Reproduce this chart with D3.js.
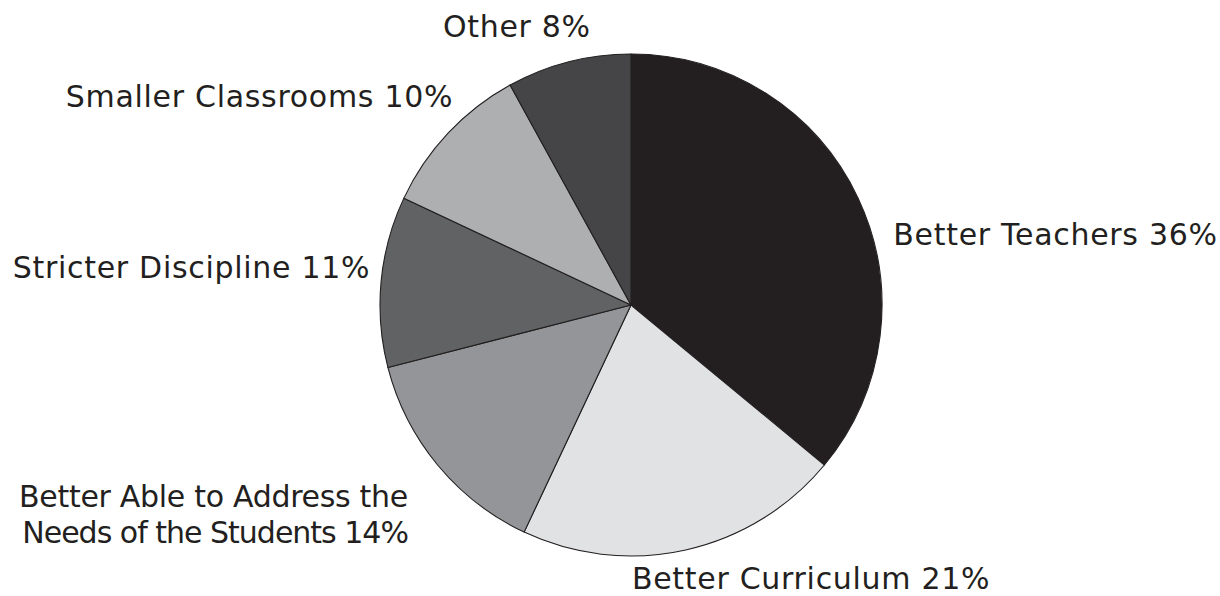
<!DOCTYPE html>
<html>
<head>
<meta charset="utf-8">
<script src="https://cdn.jsdelivr.net/npm/d3@7"></script>
<style>
  body { margin: 0; background: #fff; }
  text { font-family: "DejaVu Sans", sans-serif; font-size: 30px; fill: #231f20; letter-spacing: 0.7px; }
</style>
</head>
<body>
<svg width="1220" height="596"></svg>
<script>
// pie slices, clockwise from 12 o'clock
let categories = ["Better Teachers", "Better Curriculum", "Better Able to Address the|Needs of the Students",
                  "Stricter Discipline", "Smaller Classrooms", "Other"];
let shares = [36, 21, 14, 11, 10, 8];

var color = d3.scaleOrdinal()
    .domain(categories)
    .range(["#231f20", "#e1e2e3", "#939598", "#616264", "#aeafb1", "#454547"]);

var svg = d3.select("svg"),
    cx = 631,
    cy = 305,
    radius = 251;

let pie = d3.pie().sort(null).value(d => d.value);
let arc = d3.arc().innerRadius(0).outerRadius(radius);
let labelArc = d3.arc().innerRadius(270).outerRadius(270);

// small hand nudges so labels sit like the original
let labelNudge = {
    "Better Teachers": { dx: 18, dy: 55, anchor: "start" },
    "Better Curriculum": { dx: -58, dy: 21, anchor: "start" },
    "Better Able to Address the|Needs of the Students": { dx: -15, dy: 30, anchor: "end", spacing: ["-0.3px", "-1px"] },
    "Stricter Discipline": { dx: 8, dy: -2, anchor: "end" },
    "Smaller Classrooms": { dx: 19, dy: -13, anchor: "end" },
    "Other": { dx: -47, dy: -6, anchor: "middle" }
};

let data = categories.map((c, i) => ({ name: c, value: shares[i] }));

var g = svg.append("g")
    .attr("transform", "translate(" + cx + "," + cy + ")");

g.selectAll("path")
    .data(pie(data))
    .enter().append("path")
    .attr("d", arc)
    .attr("fill", d => color(d.data.name))
    .attr("stroke", "#231f20")
    .attr("stroke-width", 1.1)
    .attr("stroke-linejoin", "round");

g.selectAll("text")
    .data(pie(data))
    .enter().append("text")
    .each(function(d){
        let c = labelArc.centroid(d),
            n = labelNudge[d.data.name],
            lines = d.data.name.split("|");
        lines[lines.length - 1] += " " + d.data.value + "%";
        let t = d3.select(this)
            .attr("text-anchor", n.anchor)
            .attr("transform", "translate(" + (c[0] + n.dx) + "," + (c[1] + n.dy) + ")");
        lines.forEach((l, i) => {
            let s = t.append("tspan").attr("x", 0).attr("y", i * 36).text(l);
            if(n.spacing) s.style("letter-spacing", n.spacing[i]);
        });
    });
</script>
</body>
</html>
